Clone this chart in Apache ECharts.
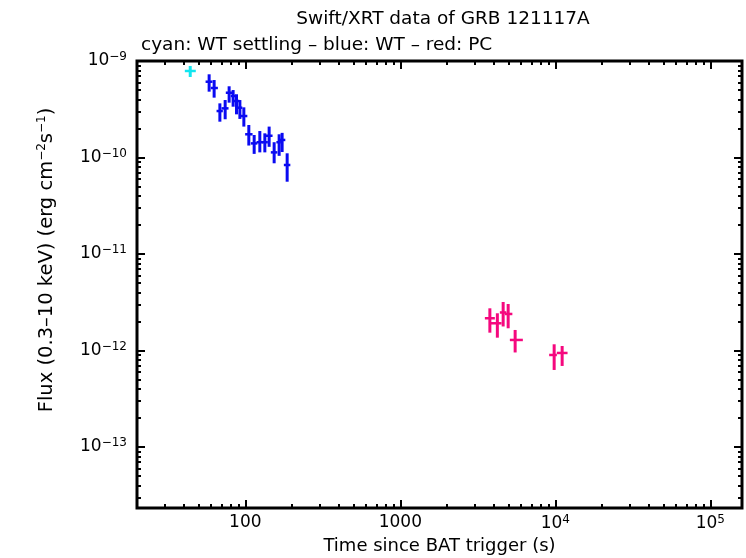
<!DOCTYPE html>
<html>
<head>
<meta charset="utf-8">
<script src="https://cdn.jsdelivr.net/npm/echarts@6/dist/echarts.min.js"></script>
<style>html,body{margin:0;padding:0;background:#fff}#c{width:746px;height:558px}</style>
</head>
<body>
<div id="c"></div>
<script>
// Each row: [time, timeLo, timeHi, flux, fluxLo, fluxHi]
const wtSettling = [
  [44.1, 40.7, 47.9, 7.88e-10, 6.83e-10, 8.88e-10]
];
const wt = [
  [58.4, 55.4, 61.4, 6.10e-10, 4.81e-10, 7.28e-10],
  [62.9, 59.9, 66.5, 5.25e-10, 4.17e-10, 6.35e-10],
  [68.5, 65.2, 71.6, 3.03e-10, 2.35e-10, 3.64e-10],
  [74.1, 70.2, 77.9, 3.23e-10, 2.49e-10, 3.94e-10],
  [78.6, 74.8, 83.1, 4.69e-10, 3.70e-10, 5.47e-10],
  [83.4, 80.6, 86.8, 4.34e-10, 3.36e-10, 5.00e-10],
  [87.7, 84.3, 91.5, 3.85e-10, 2.80e-10, 4.52e-10],
  [92.2, 88.8, 95.6, 3.28e-10, 2.51e-10, 3.94e-10],
  [97.8, 92.8, 103.0, 2.69e-10, 2.09e-10, 3.31e-10],
  [105.3, 99.7, 111.3, 1.74e-10, 1.33e-10, 2.17e-10],
  [114.0, 108.5, 119.5, 1.40e-10, 1.09e-10, 1.71e-10],
  [124.0, 118.1, 129.7, 1.44e-10, 1.13e-10, 1.88e-10],
  [133.6, 127.8, 139.7, 1.44e-10, 1.13e-10, 1.78e-10],
  [142.4, 135.6, 149.8, 1.68e-10, 1.29e-10, 2.09e-10],
  [153.4, 146.0, 160.9, 1.13e-10, 0.871e-10, 1.44e-10],
  [165.2, 158.5, 169.4, 1.44e-10, 1.04e-10, 1.74e-10],
  [172.7, 164.5, 181.1, 1.52e-10, 1.14e-10, 1.80e-10],
  [186.1, 177.2, 195.1, 8.36e-11, 5.61e-11, 11.05e-11]
];
const pc = [
  [3780, 3510, 4071, 2.157e-12, 1.529e-12, 2.735e-12],
  [4225, 3780, 4497, 1.913e-12, 1.357e-12, 2.429e-12],
  [4605, 4385, 4830, 2.476e-12, 1.773e-12, 3.18e-12],
  [4961, 4723, 5280, 2.389e-12, 1.698e-12, 3.033e-12],
  [5503, 5088, 6170, 1.285e-12, 0.9535e-12, 1.631e-12],
  [9824, 9120, 10224, 8.98e-13, 6.28e-13, 1.159e-12],
  [11062, 10224, 11987, 9.42e-13, 6.91e-13, 1.113e-12]
];
const xMajorTicks = [100, 1000, 1e4, 1e5];
const yMajorTicks = [1e-13, 1e-12, 1e-11, 1e-10, 1e-9];
const xRange = [20, 1.6e5];
const yRange = [2.33e-14, 1e-9];

const xMinorTicks = [];
for (let d = 10; d <= 1e5; d *= 10) for (let k = 2; k <= 9; k++) { const v = k * d; if (v > xRange[0] && v < xRange[1]) xMinorTicks.push(v); }
const yMinorTicks = [];
for (let e = -14; e <= -10; e++) for (let k = 2; k <= 9; k++) { const v = k * Math.pow(10, e); if (v > yRange[0] && v < yRange[1]) yMinorTicks.push(v); }

const FONT = 'DejaVu Sans';
const sup = { fontFamily: FONT, fontSize: 12, padding: [0, 0, 8, 0], color: '#000' };
const base = { fontFamily: FONT, fontSize: 17, color: '#000' };

function xFmt(v) {
  const e = Math.round(Math.log10(v));
  if (e <= 3) return '{b|' + Math.round(v) + '}';
  return '{b|10}{s|' + e + '}';
}
function yFmt(v) {
  const e = Math.round(Math.log10(v));
  return '{b|10}{s|\u2212' + Math.abs(e) + '}';
}

function xAxisDef(pos, ticks, len, labels) {
  return {
    type: 'log', logBase: 10, min: xRange[0], max: xRange[1], position: pos, gridIndex: 0,
    axisLine: { show: false }, splitLine: { show: false },
    axisTick: { show: true, inside: true, length: len, customValues: ticks, lineStyle: { color: '#000', width: 2 } },
    axisLabel: labels ? { show: true, customValues: ticks, formatter: xFmt, margin: 6, rich: { b: base, s: sup } } : { show: false },
    name: labels ? 'Time since BAT trigger (s)' : '', nameLocation: 'middle', nameGap: 29,
    nameTextStyle: { fontFamily: FONT, fontSize: 18, color: '#000' }
  };
}
function yAxisDef(pos, ticks, len, labels) {
  return {
    type: 'log', logBase: 10, min: yRange[0], max: yRange[1], position: pos, gridIndex: 0,
    axisLine: { show: false }, splitLine: { show: false },
    axisTick: { show: true, inside: true, length: len, customValues: ticks, lineStyle: { color: '#000', width: 2 } },
    axisLabel: labels ? { show: true, customValues: ticks, formatter: yFmt, margin: 10, rich: { b: base, s: sup } } : { show: false }
  };
}

function errSeries(name, data, color) {
  return {
    type: 'custom', name: name, xAxisIndex: 0, yAxisIndex: 0, data: data,
    encode: { x: [0, 1, 2], y: [3, 4, 5] },
    renderItem: function (params, api) {
      const t = api.value(0), tlo = api.value(1), thi = api.value(2);
      const f = api.value(3), flo = api.value(4), fhi = api.value(5);
      const pL = api.coord([tlo, f]), pR = api.coord([thi, f]);
      const pB = api.coord([t, flo]), pT = api.coord([t, fhi]);
      return {
        type: 'group', children: [
          { type: 'line', shape: { x1: pL[0], y1: pL[1], x2: pR[0], y2: pR[1] }, style: { stroke: color, lineWidth: 2.5 } },
          { type: 'line', shape: { x1: pB[0], y1: pB[1], x2: pT[0], y2: pT[1] }, style: { stroke: color, lineWidth: 3 } }
        ]
      };
    }
  };
}

const chart = echarts.init(document.getElementById('c'), null, { renderer: 'canvas' });
chart.setOption({
  backgroundColor: '#fff',
  animation: false,
  title: [
    { text: 'Swift/XRT data of GRB 121117A', left: 438, top: 5, textAlign: 'center',
      textStyle: { fontFamily: FONT, fontSize: 18.5, fontWeight: 'normal', color: '#000' } },
    { text: 'cyan: WT settling \u2013 blue: WT \u2013 red: PC', left: 136, top: 31,
      textStyle: { fontFamily: FONT, fontSize: 18.5, fontWeight: 'normal', color: '#000' } }
  ],
  grid: { left: 137, top: 61, right: 4, bottom: 50, outerBoundsMode: 'none', containLabel: false,
    show: true, borderColor: '#000', borderWidth: 3, backgroundColor: 'transparent' },
  xAxis: [
    xAxisDef('bottom', xMajorTicks, 8, true),
    xAxisDef('top', xMajorTicks, 8, false),
    xAxisDef('bottom', xMinorTicks, 4, false),
    xAxisDef('top', xMinorTicks, 4, false)
  ],
  yAxis: [
    yAxisDef('left', yMajorTicks, 8, true),
    yAxisDef('right', yMajorTicks, 8, false),
    yAxisDef('left', yMinorTicks, 4, false),
    yAxisDef('right', yMinorTicks, 4, false)
  ],
  graphic: [
    { type: 'text', x: 47, y: 260, rotation: Math.PI / 2,
      style: { text: '{b|Flux (0.3\u201310 keV) (erg cm}{s|\u22122}{b|s}{s|\u22121}{b|)}', align: 'center', verticalAlign: 'middle',
        rich: { b: { fontFamily: FONT, fontSize: 19.5, color: '#000' }, s: { fontFamily: FONT, fontSize: 12, padding: [0, 0, 10, 0], color: '#000' } } } }
  ],
  series: [
    errSeries('WT settling', wtSettling, '#12e6f0'),
    errSeries('WT', wt, '#0a0af2'),
    errSeries('PC', pc, '#f5087e')
  ]
});
</script>
</body>
</html>
